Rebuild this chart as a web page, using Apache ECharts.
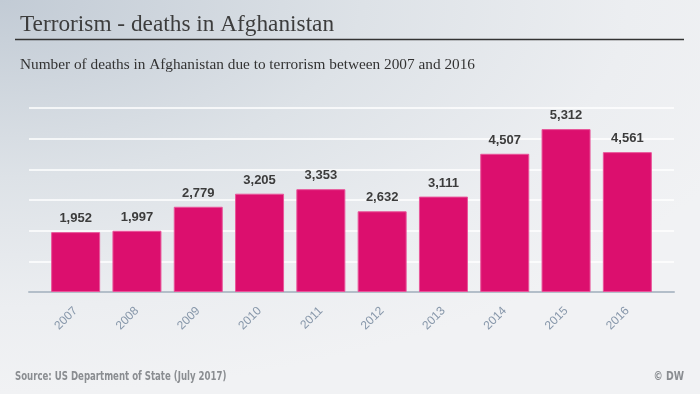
<!DOCTYPE html>
<html>
<head>
<meta charset="utf-8">
<script src="https://cdn.jsdelivr.net/npm/echarts@6/dist/echarts.min.js"></script>
<style>
html,body{margin:0;padding:0;}
#c{width:700px;height:394px;background:radial-gradient(ellipse 115% 100% at 0% 0%, #c2cbd5 0%, #dde2e7 45%, #eceef1 78%, #f1f2f4 100%);}
</style>
</head>
<body>
<div id="c"></div>
<script>
const years = ['2007','2008','2009','2010','2011','2012','2013','2014','2015','2016'];
const deaths = [1952,1997,2779,3205,3353,2632,3111,4507,5312,4561];
const yMax = 6000;
const yInterval = 1000;

const chart = echarts.init(document.getElementById('c'), null, {renderer:'canvas'});
const sansNarrow = '"Liberation Sans Narrow", "DejaVu Sans Condensed", "Liberation Sans", Arial, sans-serif';
chart.setOption({
  backgroundColor: 'transparent',
  animation: false,
  title: [
    {text:'Terrorism - deaths in Afghanistan', left:15, top:8,
     textStyle:{fontFamily:'Liberation Serif', fontSize:23.3, fontWeight:'normal', color:'#3d3d3d'}},
    {text:'Number of deaths in Afghanistan due to terrorism between 2007 and 2016', left:15, top:52,
     textStyle:{fontFamily:'Liberation Serif', fontSize:15.3, fontWeight:'normal', color:'#333'}}
  ],
  graphic: [
    {type:'line', shape:{x1:15,y1:39.5,x2:684,y2:39.5}, style:{stroke:'#333',lineWidth:1.5}},
    {type:'text', x:15, y:377, scaleX:0.83, style:{text:'Source: US Department of State (July 2017)',
      font:'bold 11.5px ' + sansNarrow, fill:'#8a8d91', textVerticalAlign:'middle', textAlign:'left'}},
    {type:'text', x:684, y:377, scaleX:0.9, style:{text:'© DW',
      font:'bold 11.5px ' + sansNarrow, fill:'#8a8d91', textVerticalAlign:'middle', textAlign:'right'}}
  ],
  grid: [
    {left:29, right:26, top:108, bottom:102},
    {left:45, right:42, top:108, bottom:102}
  ],
  xAxis: [
    {type:'category', gridIndex:0, data:years, show:true,
     axisLine:{show:true, lineStyle:{color:'#b3bec9', width:2}},
     axisTick:{show:false}, axisLabel:{show:false}, splitLine:{show:false}},
    {type:'category', gridIndex:1, data:years,
     axisLine:{show:false}, axisTick:{show:false},
     axisLabel:{rotate:45, margin:17, fontFamily:'Liberation Sans', fontSize:12, color:'#8797aa'}}
  ],
  yAxis: [
    {type:'value', gridIndex:0, min:0, max:yMax, interval:yInterval,
     axisLine:{show:false}, axisTick:{show:false}, axisLabel:{show:false},
     splitLine:{show:true, lineStyle:{color:'#ffffff', width:1.5}}},
    {type:'value', gridIndex:1, min:0, max:yMax, interval:yInterval, show:false,
     splitLine:{show:false}}
  ],
  series: [{
    type:'bar', xAxisIndex:1, yAxisIndex:1, data:deaths, barWidth:49,
    itemStyle:{color:'#dc0f6e', borderColor:'#e8559a', borderWidth:1},
    label:{show:true, position:'top', distance:7,
      fontFamily:'Liberation Sans', fontSize:13, fontWeight:'bold', color:'#3c3c3c',
      formatter: p => p.value.toLocaleString('en-US')}
  }]
});
</script>
</body>
</html>
